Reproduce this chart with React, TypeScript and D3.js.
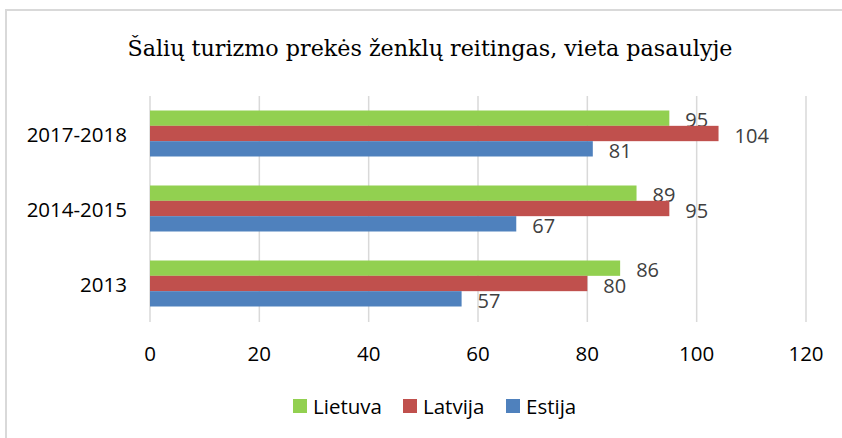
import React from "react";
import * as d3 from "d3";

const categories = ["2017-2018", "2014-2015", "2013"];
const seriesNames = ["Lietuva", "Latvija", "Estija"];
const lietuva = [95, 89, 86];
const latvija = [104, 95, 80];
const estija = [81, 67, 57];
const xTicks = [0, 20, 40, 60, 80, 100, 120];
const colors = ["#92D050", "#C0504D", "#4F81BD"];
const title = "Šalių turizmo prekės ženklų reitingas, vieta pasaulyje";

const W = 842;
const H = 438;
const FONT = "'Open Sans', sans-serif";

export default function App() {
  const x = d3.scaleLinear().domain([0, 120]).range([150, 806]);
  const y = d3.scaleBand<string>().domain(categories).range([96, 321]).padding(0);
  const groupH = 46;
  const inner = d3.scaleBand<string>().domain(seriesNames).range([0, groupH]).padding(0);
  const seriesVals = [lietuva, latvija, estija];
  const legendX = [293, 403, 506];

  return (
    <div style={{ position: "absolute", left: 0, top: 0 }}>
      <svg width={W} height={H} style={{ display: "block", background: "#fff" }}>
        <rect x={6} y={10} width={W} height={H} fill="#fff" stroke="#d9d9d9" strokeWidth={2} />
        <text
          x={430}
          y={56}
          textAnchor="middle"
          fontFamily="'DejaVu Serif', serif"
          fontSize={22}
          textLength={605}
          lengthAdjust="spacingAndGlyphs"
          fill="#000"
        >
          {title}
        </text>
        {xTicks.map((t) => (
          <line key={"g" + t} x1={x(t)} x2={x(t)} y1={96} y2={322} stroke="#d9d9d9" strokeWidth={1.5} />
        ))}
        {categories.map((c, ci) => {
          const y0 = (y(c) as number) + (y.bandwidth() - groupH) / 2;
          return (
            <g key={c}>
              {seriesNames.map((s, si) => {
                const v = seriesVals[si][ci];
                const by = y0 + (inner(s) as number);
                return (
                  <g key={s}>
                    <rect x={x(0)} y={by} width={x(v) - x(0)} height={inner.bandwidth()} fill={colors[si]} />
                    <text
                      x={x(v) + 16}
                      y={by + inner.bandwidth() / 2 + 1.5}
                      dominantBaseline="central"
                      fontFamily={FONT}
                      fontSize={20}
                      fill="#404040"
                    >
                      {v}
                    </text>
                  </g>
                );
              })}
              <text
                x={127}
                y={(y(c) as number) + y.bandwidth() / 2}
                dominantBaseline="central"
                textAnchor="end"
                fontFamily={FONT}
                fontSize={20.5}
                fill="#000"
              >
                {c}
              </text>
            </g>
          );
        })}
        {xTicks.map((t) => (
          <text key={"t" + t} x={x(t)} y={353} dominantBaseline="central" textAnchor="middle" fontFamily={FONT} fontSize={20.5} fill="#000">
            {t}
          </text>
        ))}
        {seriesNames.map((s, si) => (
          <g key={"l" + s}>
            <rect x={legendX[si]} y={399} width={14} height={14} fill={colors[si]} />
            <text x={legendX[si] + 20} y={406} dominantBaseline="central" fontFamily={FONT} fontSize={20.5} fill="#000">
              {s}
            </text>
          </g>
        ))}
      </svg>
    </div>
  );
}
